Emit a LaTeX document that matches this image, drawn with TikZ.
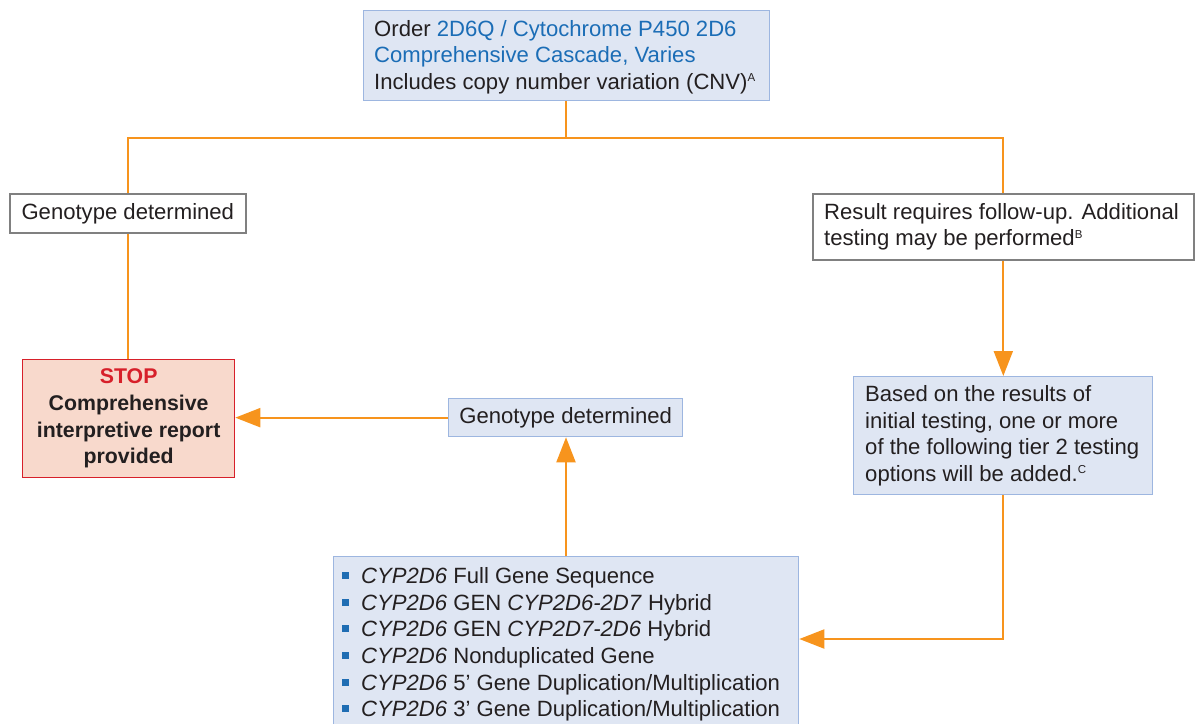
\documentclass[tikz,border=0pt]{standalone}
\usepackage{fontspec}
\setmainfont{Liberation Sans}
\usetikzlibrary{arrows.meta}
\definecolor{orangeL}{HTML}{F7941D}
\definecolor{boxblue}{HTML}{DFE6F3}
\definecolor{boxblueline}{HTML}{9DB6E0}
\definecolor{txtblue}{HTML}{1B6DB6}
\definecolor{bulletblue}{HTML}{1F6DB3}
\definecolor{graybd}{HTML}{808080}
\definecolor{stopfill}{HTML}{F8D9CC}
\definecolor{stopred}{HTML}{D7202A}
\definecolor{txt}{HTML}{231F20}
\newcommand{\sqbul}{\raisebox{4.5pt}{\textcolor{bulletblue}{\rule{7pt}{7pt}}}\hspace{12pt}}
\newcommand{\supl}[1]{\textsuperscript{\fontsize{11.5}{11.5}\selectfont #1}}
\begin{document}
\begin{tikzpicture}[x=1pt,y=-1pt,
  txtstyle/.style={font=\fontsize{22.1}{26.6}\selectfont, text=txt, inner sep=0pt},
  boxbase/.style={anchor=north west, inner sep=0pt, line width=1.3pt},
  bluebox/.style={boxbase, draw=boxblueline, fill=boxblue},
  graybox/.style={boxbase, draw=graybd, fill=white, line width=1.6pt},
  stopbox/.style={boxbase, draw=stopred, fill=stopfill},
  conn/.style={draw=orangeL, line width=2pt},
  arr/.style={conn, -{Triangle[length=25pt,width=19pt]}}]
\useasboundingbox (0,0) rectangle (1196,723);
\clip (0,0) rectangle (1196,723);
\fill[white] (0,0) rectangle (1196,723);

% boxes
\node[bluebox, minimum width=406pt, minimum height=90pt] (top) at (363,10) {};
\node[txtstyle, anchor=west, align=left] (topT) at ([xshift=11pt,yshift=-1.5pt]top.west)
  {Order \textcolor{txtblue}{2D6Q / Cytochrome P450 2D6}\\
   \textcolor{txtblue}{Comprehensive Cascade, Varies}\\
   Includes copy number variation (CNV)\supl{A}};

\node[graybox, minimum width=236pt, minimum height=39pt] (gen) at (9,193) {};
\node[txtstyle] (genT) at (gen.center) {Genotype determined};

\node[graybox, minimum width=381pt, minimum height=66pt] (res) at (812,193) {};
\node[txtstyle, anchor=west, align=left] (resT) at ([xshift=12pt]res.west)
  {Result requires follow-up. Additional\\
   testing may be performed\supl{B}};

\node[stopbox, minimum width=212pt, minimum height=118pt] (stop) at (22,359) {};
\node[txtstyle, align=center, font=\fontsize{21.3}{26.6}\selectfont\bfseries] (stopT) at (stop.center)
  {\textcolor{stopred}{STOP}\\Comprehensive\\interpretive report\\provided};

\node[bluebox, minimum width=234pt, minimum height=38pt] (gen2) at (448,398) {};
\node[txtstyle] (gen2T) at (gen2.center) {Genotype determined};

\node[bluebox, minimum width=299pt, minimum height=118pt] (tier) at (853,376) {};
\node[txtstyle, anchor=west, align=left] (tierT) at ([xshift=12pt]tier.west)
  {Based on the results of\\
   initial testing, one or more\\
   of the following tier 2 testing\\
   options will be added.\supl{C}};

\node[bluebox, minimum width=465pt, minimum height=190pt] (list) at (333,556) {};
\node[txtstyle, anchor=north west, align=left] (listT) at (342,567.5)
  {\sqbul\textit{CYP2D6} Full Gene Sequence\\
   \sqbul\textit{CYP2D6} GEN \textit{CYP2D6-2D7} Hybrid\\
   \sqbul\textit{CYP2D6} GEN \textit{CYP2D7-2D6} Hybrid\\
   \sqbul\textit{CYP2D6} Nonduplicated Gene\\
   \sqbul\textit{CYP2D6} 5’ Gene Duplication/Multiplication\\
   \sqbul\textit{CYP2D6} 3’ Gene Duplication/Multiplication};

% connectors
\coordinate (split) at (566,138);
\draw[conn] (top.south -| split) -- (split);
\draw[conn] (split) -| (gen.north);
\draw[conn] (split) -| (res.north);
\draw[conn] (gen.south) -- (stop.north -| gen.south);
\draw[arr] (res.south) -- (tier.north -| res.south);
\coordinate (turn) at (res.south |- 0,639);
\draw[arr] (tier.south -| res.south) -- (turn) -- (turn -| list.east);
\draw[arr] (list.north -| split) -- (gen2.south -| split);
\draw[arr] (gen2.west) -- (gen2.west -| stop.east);
\end{tikzpicture}
\end{document}
